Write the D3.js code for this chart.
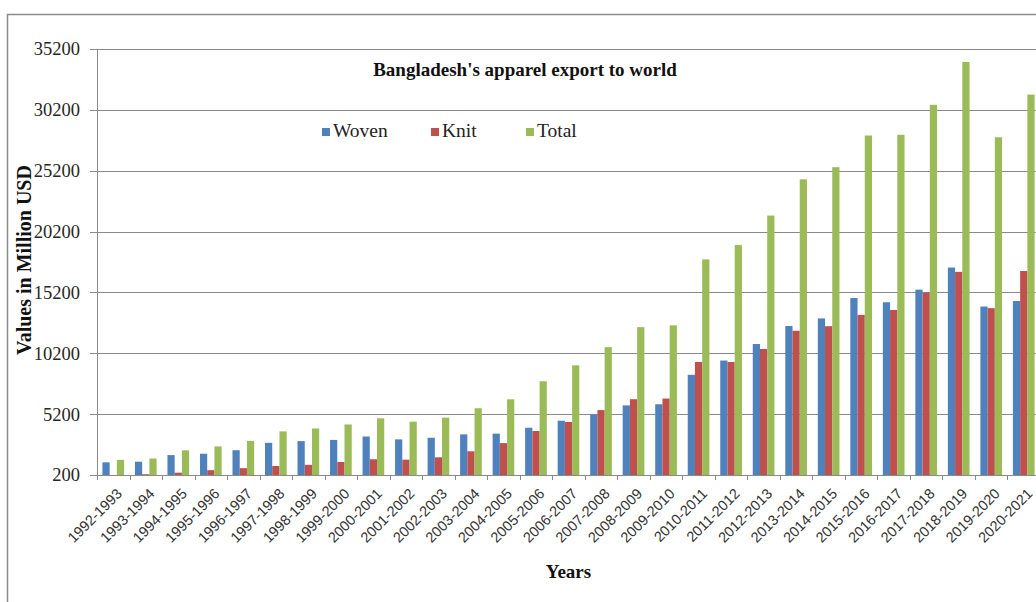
<!DOCTYPE html>
<html>
<head>
<meta charset="utf-8">
<script src="https://d3js.org/d3.v7.min.js"></script>
<style>
  html, body { margin: 0; padding: 0; background: #fff; }
  svg { display: block; }
</style>
</head>
<body>
<svg id="chart" width="1036" height="602"></svg>
<script>
// Fiscal years (July–June)
const years = [
  "1992-1993","1993-1994","1994-1995","1995-1996","1996-1997","1997-1998",
  "1998-1999","1999-2000","2000-2001","2001-2002","2002-2003","2003-2004",
  "2004-2005","2005-2006","2006-2007","2007-2008","2008-2009","2009-2010",
  "2010-2011","2011-2012","2012-2013","2013-2014","2014-2015","2015-2016",
  "2016-2017","2017-2018","2018-2019","2019-2020","2020-2021"
];

// Export values, million USD
const woven = [
  1240, 1292, 1835, 1949, 2238, 2843, 2985, 3081, 3364, 3125,
  3258, 3538, 3598, 4084, 4658, 5167, 5919, 6013, 8432, 9603,
  10961, 12442, 13065, 14739, 14393, 15426, 17245, 14041, 14496
];
const knit = [
  205, 263, 393, 598, 763, 940, 1035, 1270, 1496, 1459,
  1654, 2148, 2819, 3817, 4554, 5533, 6429, 6483, 9482, 9486,
  10551, 12050, 12427, 13355, 13757, 15189, 16889, 13908, 16960
];
const total = [
  1445, 1555, 2228, 2547, 3001, 3784, 4020, 4351, 4860, 4584,
  4912, 5686, 6418, 7901, 9211, 10700, 12348, 12497, 17914, 19090,
  21516, 24492, 25491, 28094, 28150, 30615, 34133, 27949, 31457
];

const seriesNames = ["Woven", "Knit", "Total"];
const seriesColors = ["#4F81BD", "#C0504D", "#9BBB59"];
const yTicks = [200, 5200, 10200, 15200, 20200, 25200, 30200, 35200];

const chartTitle = "Bangladesh's apparel export to world";
const xTitle = "Years";
const yTitle = "Values in Million USD";

const svg = d3.select("#chart");
const serif = "'Liberation Serif', 'Times New Roman', serif";
const sans = "'Liberation Sans', Arial, sans-serif";

// Outer chart frame (runs past the right and bottom edges)
svg.append("rect")
  .attr("x", 7.5).attr("y", 14.5)
  .attr("width", 1100).attr("height", 700)
  .attr("fill", "#fff")
  .attr("stroke", "#8c8c8c").attr("stroke-width", 1.5);

const plot = { left: 97, right: 1040, top: 49, bottom: 475 };

const x0 = d3.scaleBand()
  .domain(years)
  .range([plot.left, plot.right])
  .padding(0);

// Three bars per category, gap = 150% of one bar width
const bw = x0.bandwidth();
const gapFrac = 1.5;
const barW = bw / (3 + gapFrac);
const groupOffset = (bw - 3 * barW) / 2;

const y = d3.scaleLinear()
  .domain([200, 35200])
  .range([plot.bottom, plot.top]);

// Horizontal gridlines with outward tick stubs
svg.append("g")
  .selectAll("line")
  .data(yTicks)
  .join("line")
  .attr("x1", plot.left - 7)
  .attr("x2", plot.right)
  .attr("y1", d => Math.round(y(d)) + 0.5)
  .attr("y2", d => Math.round(y(d)) + 0.5)
  .attr("stroke", "#8a8a8a")
  .attr("stroke-width", 1);

// Y tick labels
svg.append("g")
  .selectAll("text")
  .data(yTicks)
  .join("text")
  .attr("x", plot.left - 17)
  .attr("y", d => y(d))
  .attr("dy", "0.35em")
  .attr("text-anchor", "end")
  .attr("font-family", serif)
  .attr("font-size", 18.5)
  .attr("fill", "#262626")
  .text(d => d);

// Y axis line
svg.append("line")
  .attr("x1", plot.left + 0.5).attr("x2", plot.left + 0.5)
  .attr("y1", plot.top).attr("y2", plot.bottom)
  .attr("stroke", "#8a8a8a").attr("stroke-width", 1);

// Bars
const seriesData = [woven, knit, total];
seriesData.forEach((vals, si) => {
  svg.append("g")
    .selectAll("rect")
    .data(vals)
    .join("rect")
    .attr("x", (d, i) => x0(years[i]) + groupOffset + si * barW)
    .attr("width", barW)
    .attr("y", d => y(Math.max(d, 200)))
    .attr("height", d => y(200) - y(Math.max(d, 200)))
    .attr("fill", seriesColors[si]);
});

// X axis with category boundary ticks
const xAxisG = svg.append("g");
xAxisG.append("line")
  .attr("x1", plot.left).attr("x2", plot.right)
  .attr("y1", plot.bottom + 0.5).attr("y2", plot.bottom + 0.5)
  .attr("stroke", "#8a8a8a");
xAxisG.selectAll("line.tick")
  .data(years.concat(["end"]))
  .join("line")
  .attr("class", "tick")
  .attr("x1", (d, i) => Math.round(plot.left + i * bw) + 0.5)
  .attr("x2", (d, i) => Math.round(plot.left + i * bw) + 0.5)
  .attr("y1", plot.bottom)
  .attr("y2", plot.bottom + 5)
  .attr("stroke", "#8a8a8a");

// Rotated category labels
xAxisG.selectAll("text")
  .data(years)
  .join("text")
  .attr("transform", d => `translate(${x0(d) + bw / 2 + 6},${plot.bottom + 16}) rotate(-45)`)
  .attr("text-anchor", "end")
  .attr("dy", "0.35em")
  .attr("font-family", sans)
  .attr("font-size", 14.5)
  .attr("fill", "#333")
  .text(d => d);

// Titles
svg.append("text")
  .attr("x", 525).attr("y", 76)
  .attr("text-anchor", "middle")
  .attr("font-family", serif)
  .attr("font-weight", "bold")
  .attr("font-size", 19)
  .attr("fill", "#111")
  .text(chartTitle);

svg.append("text")
  .attr("x", (plot.left + plot.right) / 2).attr("y", 578)
  .attr("text-anchor", "middle")
  .attr("font-family", serif)
  .attr("font-weight", "bold")
  .attr("font-size", 19)
  .attr("fill", "#111")
  .text(xTitle);

svg.append("text")
  .attr("transform", "translate(31,260) rotate(-90)")
  .attr("text-anchor", "middle")
  .attr("font-family", serif)
  .attr("font-weight", "bold")
  .attr("font-size", 20)
  .attr("fill", "#111")
  .text(yTitle);

// Legend
const legendX = [322, 431, 526];
const legend = svg.append("g");
seriesNames.forEach((name, i) => {
  legend.append("rect")
    .attr("x", legendX[i]).attr("y", 128)
    .attr("width", 8).attr("height", 8)
    .attr("fill", seriesColors[i]);
  legend.append("text")
    .attr("x", legendX[i] + 11).attr("y", 137)
    .attr("font-family", serif)
    .attr("font-size", 19.5)
    .attr("fill", "#222")
    .text(name);
});
</script>
</body>
</html>
